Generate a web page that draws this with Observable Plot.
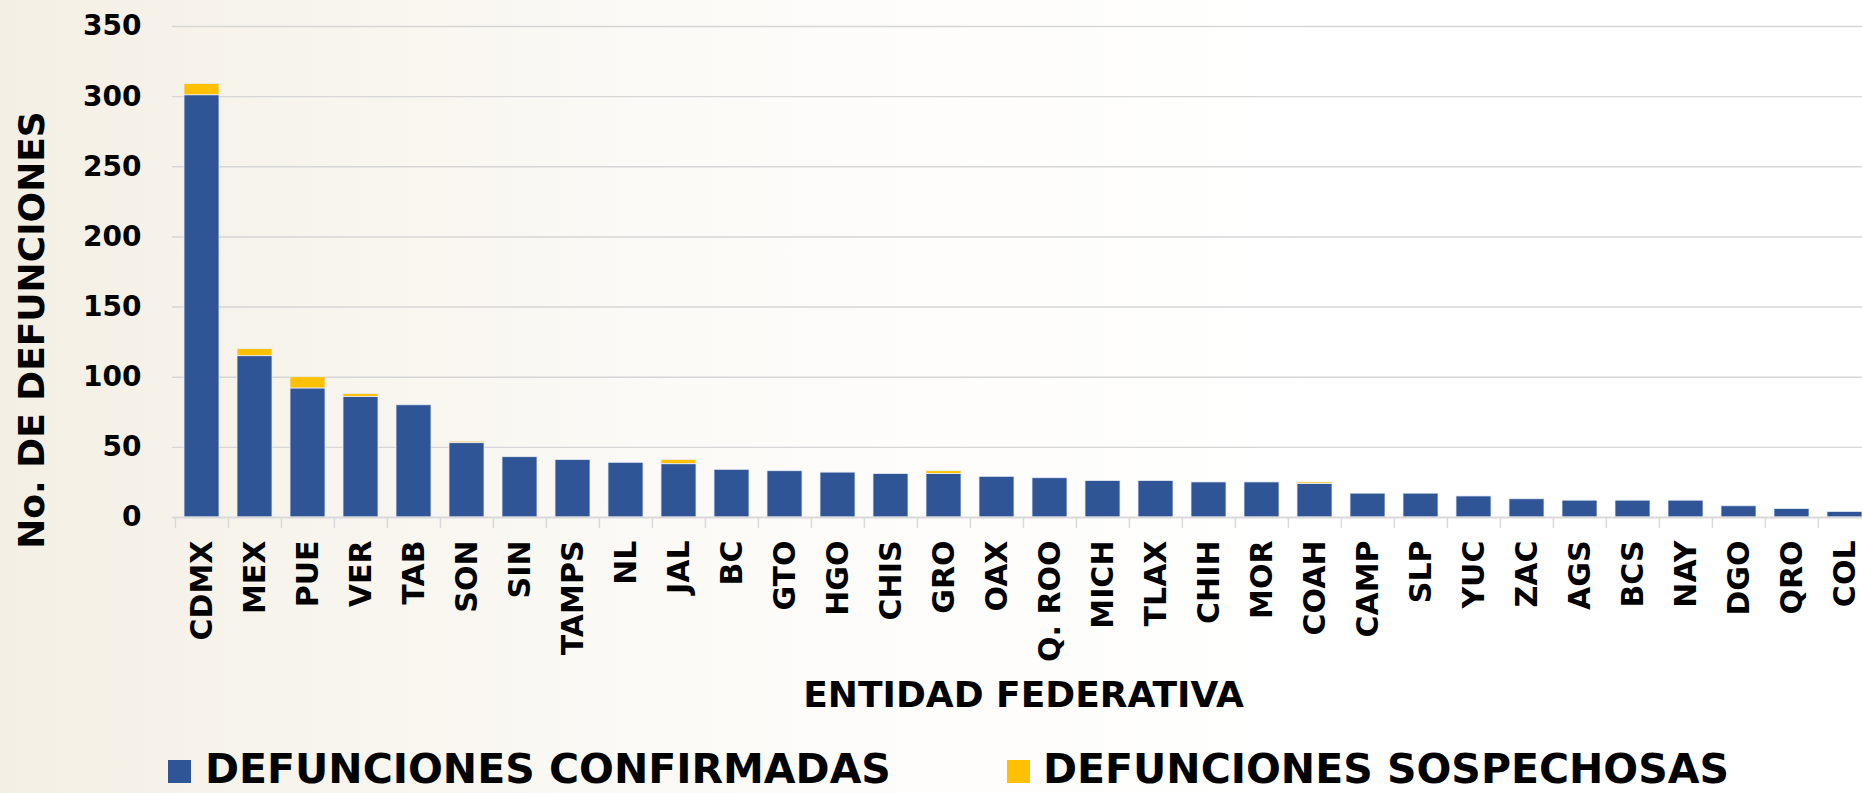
<!DOCTYPE html>
<html>
<head>
<meta charset="utf-8">
<script src="https://cdn.jsdelivr.net/npm/d3@7"></script>
<script src="https://cdn.jsdelivr.net/npm/@observablehq/plot@0.6"></script>
<style>
  html, body { margin: 0; padding: 0; overflow: hidden; }
  body {
    width: 1862px; height: 793px;
    background: linear-gradient(90deg, #f4efe4 0%, #f8f5ee 18%, #fcfbf8 40%, #ffffff 70%);
    font-family: "DejaVu Sans", sans-serif; font-weight: bold; color: #000;
  }
  #chart { position: absolute; left: 0; top: 0; }
  #legend { position: absolute; left: 0; top: 740px; width: 1862px; height: 53px; }
  .sw { position: absolute; width: 23px; height: 23px; top: 20px; }
  .lt { position: absolute; top: 12px; font-size: 41px; line-height: 34px; white-space: nowrap; }
</style>
</head>
<body>
<div id="chart"></div>
<div id="legend">
  <div class="sw" id="sw1" style="left:168px;"></div>
  <div class="lt" id="lt1" style="left:205px;"></div>
  <div class="sw" id="sw2" style="left:1007px;"></div>
  <div class="lt" id="lt2" style="left:1043px;"></div>
</div>
<script>
const estados = ["CDMX","MEX","PUE","VER","TAB","SON","SIN","TAMPS","NL","JAL","BC","GTO","HGO","CHIS","GRO","OAX","Q. ROO","MICH","TLAX","CHIH","MOR","COAH","CAMP","SLP","YUC","ZAC","AGS","BCS","NAY","DGO","QRO","COL"];
const confirmadas = [301,115,92,86,80,53,43,41,39,38,34,33,32,31,31,29,28,26,26,25,25,24,17,17,15,13,12,12,12,8,6,4];
const sospechosas = [8,5,8,2,0,1,0,0,0,3,0,0,0,0,2,0,0,0,0,0,0,1,0,0,0,0,0,0,0,0,0,0];
const series = ["DEFUNCIONES CONFIRMADAS","DEFUNCIONES SOSPECHOSAS"];
const colores = ["#2F5597","#FFC000"];
const yTicks = [0,50,100,150,200,250,300,350];
const yTitle = "No. DE DEFUNCIONES";
const xTitle = "ENTIDAD FEDERATIVA";

const rows = [];
estados.forEach((e, i) => {
  rows.push({estado: e, serie: series[0], valor: confirmadas[i]});
  rows.push({estado: e, serie: series[1], valor: sospechosas[i]});
});

const W = 1862, H = 740, ML = 172, MR = -12;
const step = (W - MR - ML) / estados.length;

const chart = Plot.plot({
  width: W, height: H,
  marginLeft: ML, marginRight: MR, marginTop: 26, marginBottom: 223,
  style: {background: "transparent", fontFamily: "DejaVu Sans, sans-serif", fontWeight: "bold", color: "#000", overflow: "hidden"},
  x: {domain: estados, paddingInner: 0.34, paddingOuter: 0.17, label: null, axis: null},
  y: {domain: [0, 350], label: null, axis: null},
  color: {domain: series, range: colores},
  marks: [
    Plot.ruleY(yTicks.filter(d => d > 0), {stroke: "#d6d6d6", strokeWidth: 1.4}),
    Plot.barY(rows, {x: "estado", y: "valor", fill: "serie", order: null, stroke: "#e8edf5", strokeWidth: 0.8}),
    Plot.ruleY([0], {stroke: "#d9d9d9", strokeWidth: 2}),
    Plot.axisX({tickSize: 11, tickFormat: () => "", label: null, stroke: "#d9d9d9", strokeWidth: 1.5, dx: -step / 2}),
    Plot.axisX({tickSize: 0, tickPadding: 23, tickRotate: -90, fontSize: 30, fontWeight: "bold", label: null, fill: "#000"}),
    Plot.axisY({ticks: yTicks, tickSize: 0, tickPadding: 31, fontSize: 28, fontWeight: "bold", label: null, fill: "#000"}),
    Plot.text([yTitle], {frameAnchor: "left", textAnchor: "middle", rotate: -90, dx: -140, dy: 58, fontSize: 36, fontWeight: "bold", fill: "#000"}),
    Plot.text([xTitle], {frameAnchor: "bottom", dy: 189, fontSize: 36, fontWeight: "bold", fill: "#000"})
  ]
});
document.getElementById("chart").appendChild(chart);
document.getElementById("sw1").style.background = colores[0];
document.getElementById("sw2").style.background = colores[1];
document.getElementById("lt1").textContent = series[0];
document.getElementById("lt2").textContent = series[1];
</script>
</body>
</html>
